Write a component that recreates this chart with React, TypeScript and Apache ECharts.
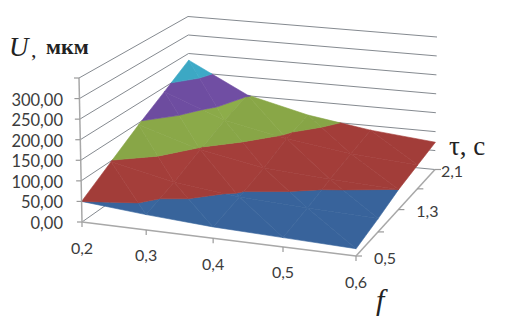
import React, { useEffect, useRef } from "react";
import * as echarts from "echarts";

const fLabels = ["0,2", "0,3", "0,4", "0,5", "0,6"];
const tauLabels = ["0,5", "", "1,3", "", "2,1"];
const zTicks = [0, 50, 100, 150, 200, 250, 300, 350];
const zLabels = ["0,00", "50,00", "100,00", "150,00", "200,00", "250,00", "300,00", ""];
// U values, rows = tau 0.5 .. 2.1, columns = f 0.2 .. 0.6
const row05 = [50, 37, 27, 22, 17];
const row09 = [98, 64, 46, 38, 32];
const row13 = [145, 97, 68, 57, 50];
const row17 = [188, 128, 95, 73, 61];
const row21 = [232, 152, 113, 88, 72];
const surface = [row05, row09, row13, row17, row21];
const bandEdges = [0, 50, 100, 150, 200, 250];
const bandColors = ["#38649c", "#a23d39", "#86a446", "#6a4a9b", "#3aa2bd"];

// Perspective of the box: floor corners and how tall a unit of U is at each corner
const A = [82, 222], B = [356, 256], C = [435, 169.5], D = [190, 146];
const zScale = [144 / 350, 150 / 350, 132.5 / 350, 129.5 / 350];
const zLean = [-3 / 350, 2 / 350, 2 / 350, -2 / 350];
const sx = A[0] - B[0] + C[0] - D[0], sy = A[1] - B[1] + C[1] - D[1];
const dx1 = B[0] - C[0], dy1 = B[1] - C[1], dx2 = D[0] - C[0], dy2 = D[1] - C[1];
const den = dx1 * dy2 - dx2 * dy1;
const g = (sx * dy2 - dx2 * sy) / den, h = (dx1 * sy - sx * dy1) / den;
const ha = B[0] - A[0] + g * B[0], hb = D[0] - A[0] + h * D[0];
const hd = B[1] - A[1] + g * B[1], he = D[1] - A[1] + h * D[1];
const bil = (c: number[], u: number, v: number) =>
  c[0] * (1 - u) * (1 - v) + c[1] * u * (1 - v) + c[2] * u * v + c[3] * (1 - u) * v;
function project(u: number, v: number, z: number): number[] {
  const w = g * u + h * v + 1;
  return [
    (ha * u + hb * v + A[0]) / w + bil(zLean, u, v) * z,
    (hd * u + he * v + A[1]) / w - bil(zScale, u, v) * z,
  ];
}

type P = number[]; // u, v, U
function clip(poly: P[], limit: number, keepAbove: boolean): P[] {
  const out: P[] = [];
  const inside = (p: P) => (keepAbove ? p[2] >= limit : p[2] <= limit);
  poly.forEach((p, k) => {
    const q = poly[(k + 1) % poly.length];
    if (inside(p)) out.push(p);
    if (inside(p) !== inside(q)) {
      const t = (limit - p[2]) / (q[2] - p[2]);
      out.push([p[0] + (q[0] - p[0]) * t, p[1] + (q[1] - p[1]) * t, limit]);
    }
  });
  return out;
}
function shade(hex: string, k: number): string {
  const n = parseInt(hex.slice(1), 16);
  const c = [n >> 16, (n >> 8) & 255, n & 255].map((x) => Math.max(0, Math.min(255, Math.round(x * k))));
  return `rgb(${c[0]},${c[1]},${c[2]})`;
}

const font = "Lato, 'Open Sans', sans-serif";
const cells: number[][] = [];
for (let j = 0; j < 4; j++) for (let i = 0; i < 4; i++) cells.push([i, j]);

export default function App() {
  const ref = useRef<HTMLDivElement>(null);
  useEffect(() => {
    document.body.style.margin = "0";
    const chart = echarts.init(ref.current!, undefined, { renderer: "svg" });
    const hiddenAxis = (inverse: boolean, max: number) => ({
      type: "value", min: 0, max, inverse, show: false,
    });
    chart.setOption({
      animation: false,
      grid: { left: 0, right: 0, top: 0, bottom: 0 },
      xAxis: hiddenAxis(false, 506),
      yAxis: hiddenAxis(true, 326),
      series: [
        {
          type: "custom", coordinateSystem: "cartesian2d", silent: true, z: 1,
          data: zTicks.map((z) => [z]),
          encode: { x: 0, y: 0 },
          renderItem: (_p: any, api: any) => {
            const z = api.value(0);
            const pts = [project(0, 0, z), project(0, 1, z), project(1, 1, z)].map((p) => api.coord(p));
            return { type: "polyline", shape: { points: pts }, style: { stroke: "#858a90", lineWidth: 1, fill: "none" } };
          },
        },
        {
          type: "custom", coordinateSystem: "cartesian2d", silent: true, z: 2,
          data: cells,
          encode: { x: 0, y: 1 },
          renderItem: (_p: any, api: any) => {
            const i = api.value(0), j = api.value(1);
            const pt = (a: number, b: number): P => [a / 4, b / 4, surface[b][a]];
            const p00 = pt(i, j), p10 = pt(i + 1, j), p11 = pt(i + 1, j + 1), p01 = pt(i, j + 1);
            const tris = [[p00, p10, p01], [p10, p11, p01]];
            const children: any[] = [];
            tris.forEach((tri, ti) => {
              const dUdu = ti === 0 ? p10[2] - p00[2] : p11[2] - p01[2];
              const k = 1 + 0.02 * ((-dUdu * 4) / 100 - 0.6);
              bandColors.forEach((col, b) => {
                const poly = clip(clip(tri, bandEdges[b], true), bandEdges[b + 1], false);
                if (poly.length < 3) return;
                const c = shade(col, k);
                children.push({
                  type: "polygon",
                  shape: { points: poly.map((q) => api.coord(project(q[0], q[1], q[2]))) },
                  style: { fill: c, stroke: c, lineWidth: 0.6 },
                });
              });
            });
            return { type: "group", children };
          },
        },
        {
          type: "custom", coordinateSystem: "cartesian2d", silent: true, z: 3,
          data: fLabels.map((_, i) => [i]),
          encode: { x: 0, y: 0 },
          renderItem: (_p: any, api: any) => {
            const i = api.value(0);
            const a = api.coord(project(i / 4, 0, 0));
            const children: any[] = [
              { type: "line", shape: { x1: a[0], y1: a[1], x2: a[0], y2: a[1] + 5 }, style: { stroke: "#9a9a9a", lineWidth: 1.2 } },
              { type: "text", style: { text: fLabels[i], x: a[0], y: a[1] + 25, align: "center", verticalAlign: "middle", fontSize: 16, fontFamily: font, fill: "#3c3c3c" } },
            ];
            if (i === 0) {
              const e = api.coord(project(1, 0, 0));
              children.push({ type: "line", shape: { x1: a[0], y1: a[1], x2: e[0], y2: e[1] }, style: { stroke: "#a8a8a8", lineWidth: 1.5 } });
            }
            return { type: "group", children };
          },
        },
        {
          type: "custom", coordinateSystem: "cartesian2d", silent: true, z: 3,
          data: tauLabels.map((_, i) => [i]),
          encode: { x: 0, y: 0 },
          renderItem: (_p: any, api: any) => {
            const i = api.value(0);
            const a = api.coord(project(1, i / 4, 0));
            const off = i === 4 ? 17 : 29;
            const children: any[] = [
              { type: "line", shape: { x1: a[0], y1: a[1], x2: a[0] + 6, y2: a[1] }, style: { stroke: "#9a9a9a", lineWidth: 1.2 } },
              { type: "text", style: { text: tauLabels[i], x: a[0] + off, y: a[1] + 1, align: "center", verticalAlign: "middle", fontSize: 16, fontFamily: font, fill: "#3c3c3c" } },
            ];
            if (i === 0) {
              const e = api.coord(project(1, 1, 0));
              children.push({ type: "line", shape: { x1: a[0], y1: a[1], x2: e[0], y2: e[1] }, style: { stroke: "#a8a8a8", lineWidth: 1.5 } });
            }
            return { type: "group", children };
          },
        },
        {
          type: "custom", coordinateSystem: "cartesian2d", silent: true, z: 3,
          data: zTicks.map((z, i) => [z, i]),
          encode: { x: 0, y: 0 },
          renderItem: (_p: any, api: any) => {
            const z = api.value(0), i = api.value(1);
            const a = api.coord(project(0, 0, z));
            const children: any[] = [
              { type: "line", shape: { x1: a[0] - 5, y1: a[1], x2: a[0], y2: a[1] }, style: { stroke: "#9a9a9a", lineWidth: 1.2 } },
              { type: "text", style: { text: zLabels[i], x: 63, y: a[1] + 1, align: "right", verticalAlign: "middle", fontSize: 16.5, fontFamily: font, fill: "#3c3c3c" } },
            ];
            if (i === 0) {
              const e = api.coord(project(0, 0, 350));
              children.push({ type: "line", shape: { x1: a[0], y1: a[1], x2: e[0], y2: e[1] }, style: { stroke: "#a8a8a8", lineWidth: 1.5 } });
            }
            return { type: "group", children };
          },
        },
      ],
      graphic: [
        { type: "text", x: 9, y: 33, style: { text: "U", font: "italic 27px 'Liberation Serif'", fill: "#222" } },
        { type: "text", x: 31, y: 38, style: { text: ",", font: "22px 'Liberation Serif'", fill: "#222" } },
        { type: "text", x: 46, y: 35, style: { text: "мкм", font: "bold 22px 'Liberation Serif'", fill: "#222" } },
        { type: "text", x: 449, y: 132, style: { text: "τ, с", font: "27px 'Liberation Serif'", fill: "#222" } },
        { type: "text", x: 376, y: 284, style: { text: "f", font: "italic 30px 'Liberation Serif'", fill: "#222" } },
      ],
    });
    return () => chart.dispose();
  }, []);
  return <div ref={ref} style={{ width: 506, height: 326 }} />;
}
